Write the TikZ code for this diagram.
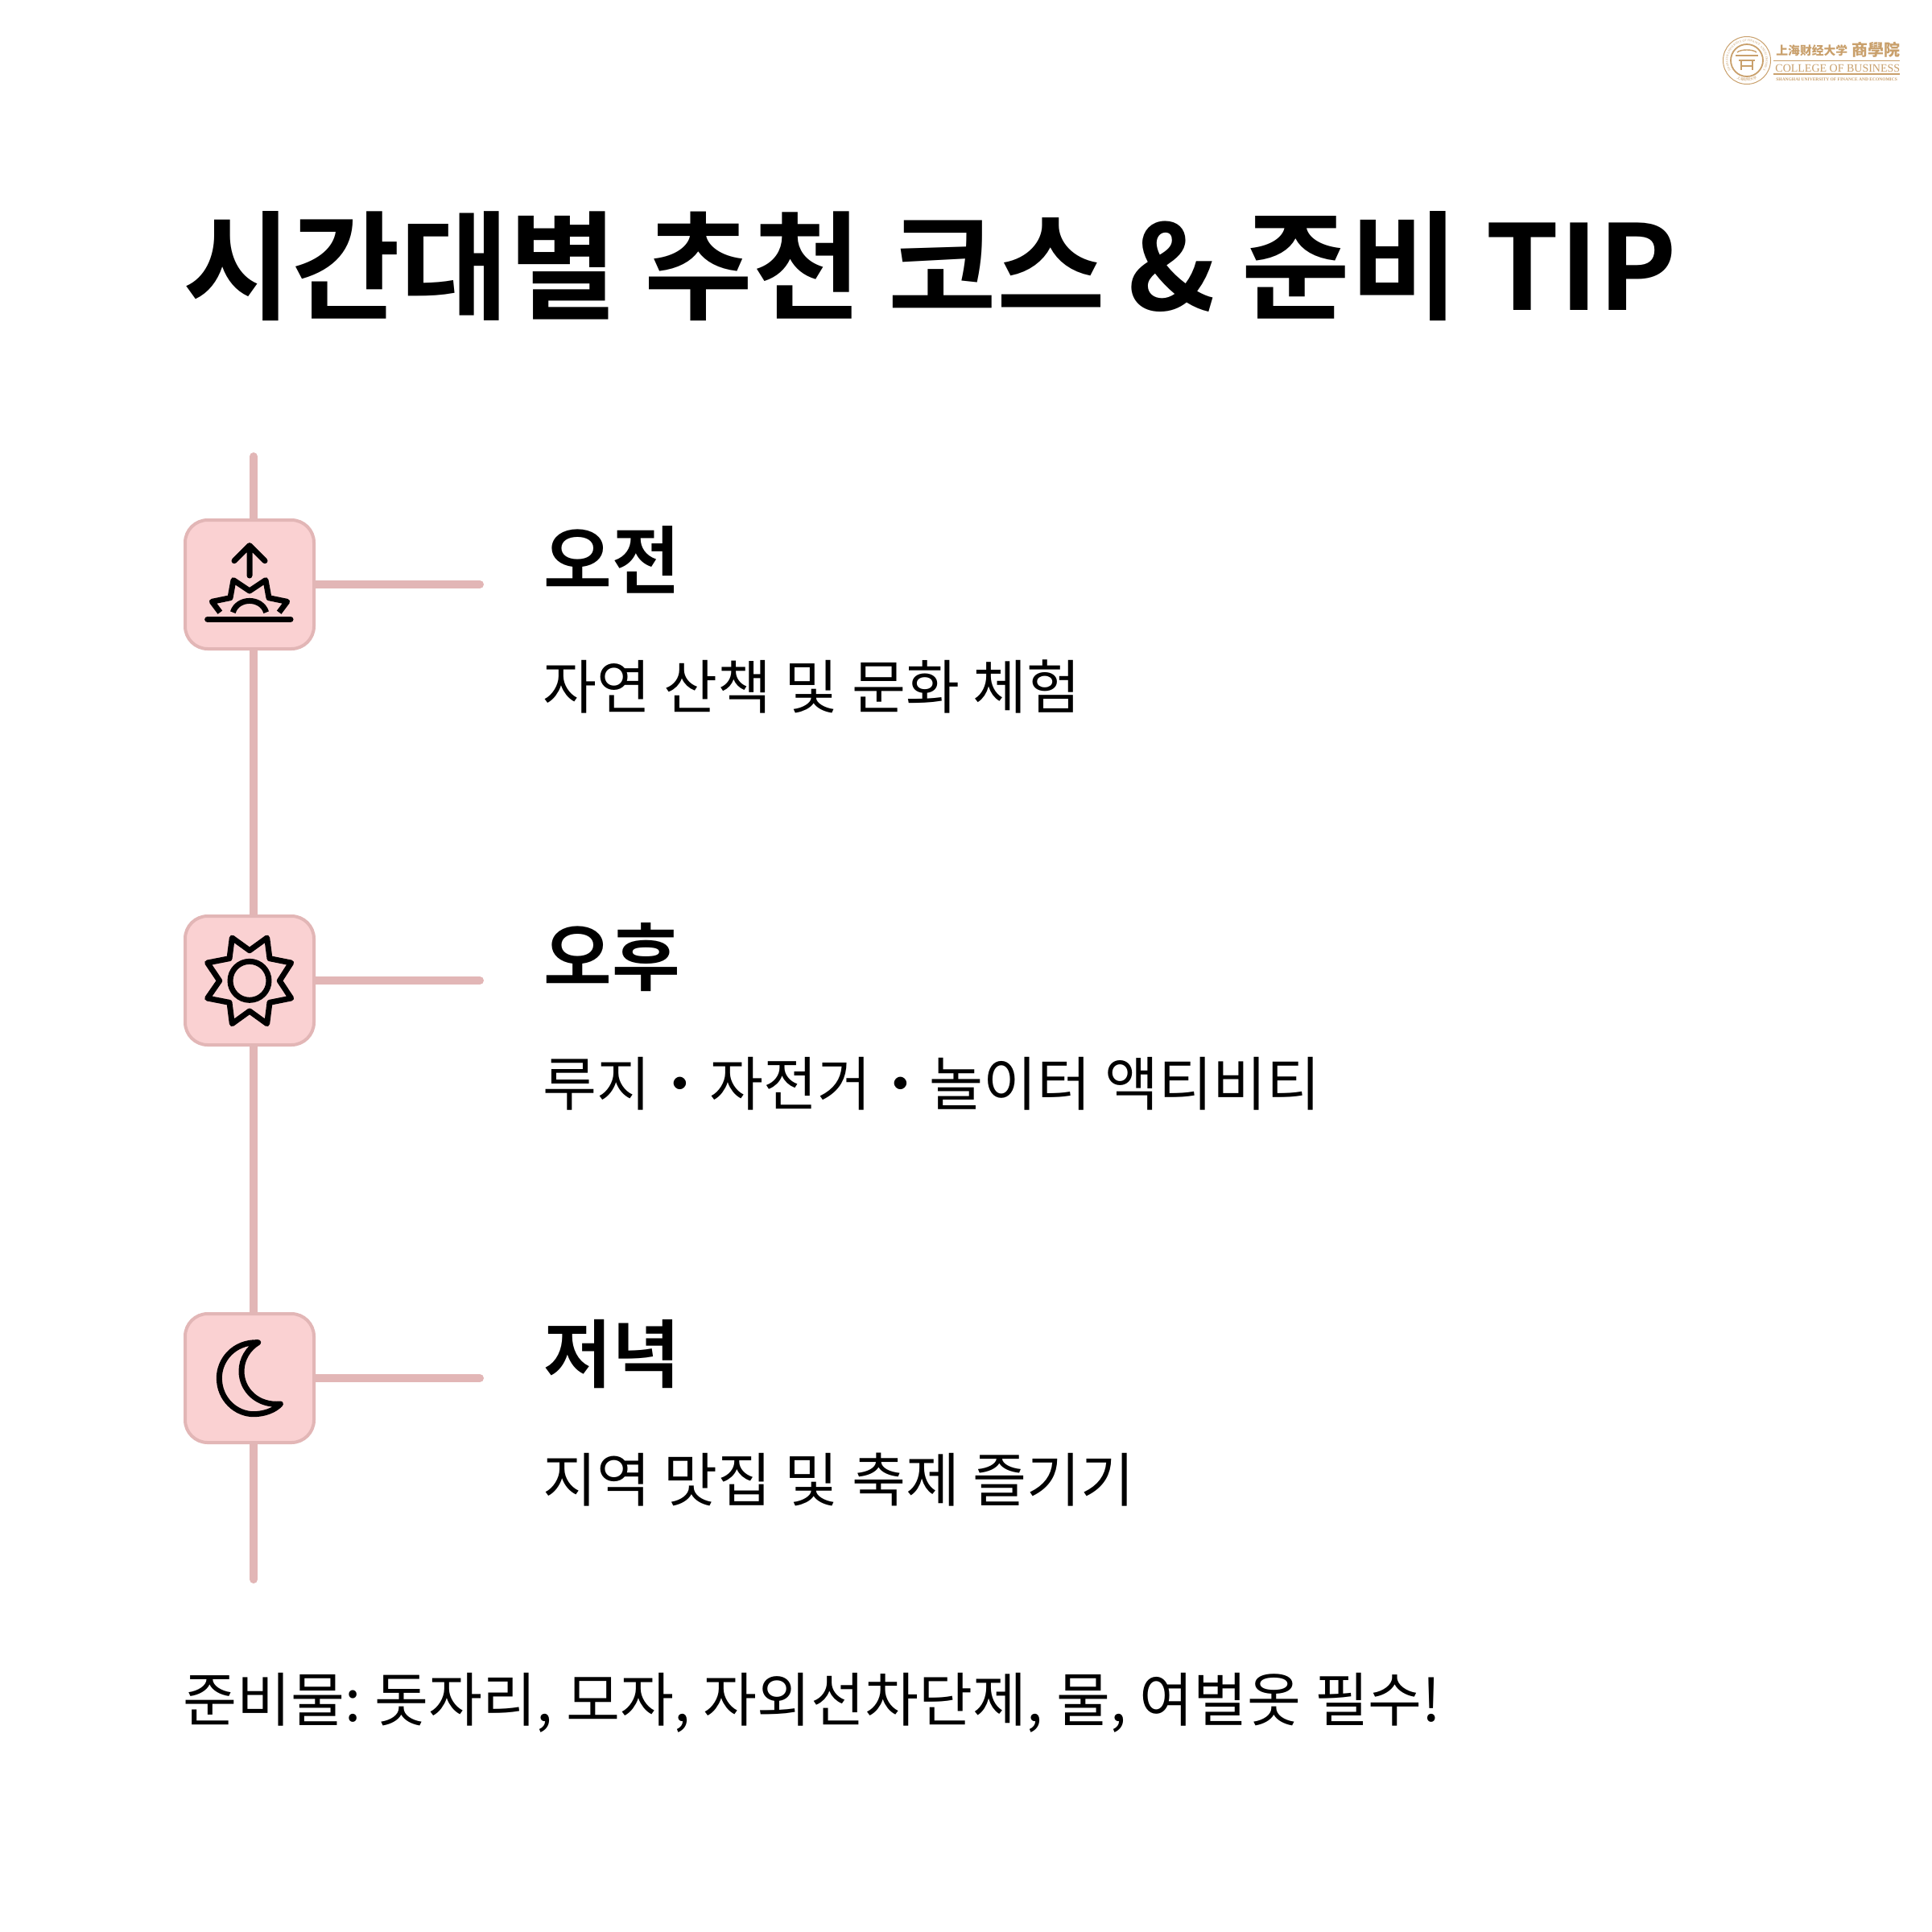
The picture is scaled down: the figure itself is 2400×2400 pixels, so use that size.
\documentclass[tikz,border=0pt]{standalone}
\usepackage{fontspec}
\usetikzlibrary{decorations.text}
\setmainfont{Noto Sans CJK KR}
\newfontfamily\krb{Noto Sans CJK KR Bold}
\newfontfamily\krr{Noto Sans CJK KR}
\newfontfamily\cnf{Noto Sans CJK SC}
\newfontfamily\lib{Liberation Serif}
\definecolor{linec}{HTML}{E2B6B6}
\definecolor{boxc}{HTML}{FAD1D2}
\definecolor{gold}{HTML}{C9A06C}
\pgfdeclarelayer{bg}
\pgfsetlayers{bg,main}
\tikzset{
 x=0.5pt,y=-0.5pt,
 conn/.style={draw=linec,line width=5pt,line cap=round},
 iconbox/.style={draw=linec,fill=boxc,line width=2pt,rounded corners=14pt,minimum width=80pt,minimum height=80pt,inner sep=0pt,outer sep=0pt},
 ico/.style={draw=black,line width=3.5pt,line cap=round,line join=round},
 titlet/.style={anchor=base west,inner sep=0pt,font=\krb\fontsize{73.3}{73.3}\selectfont},
 headt/.style={anchor=base west,inner sep=0pt,font=\krb\fontsize{46}{46}\selectfont},
 subt/.style={anchor=base west,inner sep=0pt,font=\krr\fontsize{36.4}{36.4}\selectfont},
 gold1/.style={anchor=base west,inner sep=0pt,text=gold},
}
\begin{document}
\begin{tikzpicture}
\useasboundingbox (0,0) rectangle (2400,2400);
\coordinate (top) at (315,567);
\coordinate (bot) at (315,1962);
\coordinate (endx) at (596,0);
\path node[iconbox] (box1) at (310,726) {}
      node[iconbox] (box2) at (310,1218) {}
      node[iconbox] (box3) at (310,1712) {};
\begin{pgfonlayer}{bg}
\fill[white] (0,0) rectangle (2400,2400);
\draw[conn] (top) -- (bot);
\draw[conn] (box1.center) -- (box1.center -| endx);
\draw[conn] (box2.center) -- (box2.center -| endx);
\draw[conn] (box3.center) -- (box3.center -| endx);
\end{pgfonlayer}
% sunrise icon
\begin{scope}[shift={(210,550)},x=0.16667pt,y=-0.16667pt]
\draw[ico] (300,495) -- (300,385) (243,440) -- (300,383) -- (357,440);
\draw[ico,line cap=butt] (190,632) -- (160,592) -- (228,578) -- (240,512) -- (300,552) -- (360,512) -- (372,578) -- (440,592) -- (410,632);
\draw[ico,line cap=butt] (238,632) .. controls (255,575) and (345,575) .. (362,632);
\draw[ico] (143,658) -- (453,658);
\end{scope}
% sun icon
\begin{scope}[shift={(210,1120)},x=0.16667pt,y=-0.16667pt]
\draw[ico] (235,135) -- (300,182) -- (365,135) -- (375,212) -- (455,228) -- (412,295) -- (455,360) -- (375,376) -- (365,455) -- (300,408) -- (235,455) -- (225,376) -- (143,360) -- (188,295) -- (143,228) -- (225,212) -- cycle;
\draw[ico] (300,295) circle[radius=72];
\end{scope}
% moon icon
\begin{scope}[shift={(210,1610)},x=0.16667pt,y=-0.16667pt]
\draw[ico] (332,173) .. controls (240,170) and (187,240) .. (187,305) .. controls (187,385) and (250,440) .. (315,440) .. controls (355,440) and (395,425) .. (415,402) .. controls (330,410) and (270,350) .. (270,280) .. controls (270,235) and (295,195) .. (332,173) -- cycle;
\end{scope}
% texts
\node[titlet] (title) at (227,385) {시간대별 추천 코스\hspace{-2.3pt} \&\hspace{-0.3pt} 준비 TIP};
\node[headt] (h1) at (675,730) {오전};
\node[subt] (s1) at (674,880) {자연 산책 및 문화 체험};
\node[headt] (h2) at (675,1223) {오후};
\node[subt] (s2) at (674,1373) {루지・자전거・놀이터 액티비티};
\node[headt] (h3) at (675,1716) {저녁};
\node[subt] (s3) at (674,1865) {지역 맛집 및 축제 즐기기};
\node[subt] (foot) at (227,2138) {준비물:\hspace{-2.2pt} 돗자리, 모자, 자외선차단제, 물, 여벌옷 필수!};
% logo
\draw[gold,line width=0.5pt] (2170,75) circle[radius=29.5];
\draw[gold,line width=0.9pt] (2170,75) circle[radius=20];
\draw[gold,line width=0.7pt] (2158,65) .. controls (2162,61) and (2178,61) .. (2182,65);
\draw[gold,line width=0.7pt] (2156,69) -- (2184,69) (2160,75) -- (2180,75) (2163,75) -- (2163,87) (2177,75) -- (2177,87) (2163,82) -- (2177,82);
\begin{scope}[shift={(2170,75)},y=0.5pt]
\path[decorate,decoration={text along path,text color=gold,text align=center,text={|\lib\fontsize{1.9}{1.9}\selectfont|SHANGHAI UNIVERSITY OF FINANCE AND ECONOMICS}}] (215:23.5) arc[start angle=215,end angle=-35,radius=23.5];
\path[decorate,decoration={text along path,text color=gold,text align=center,text={|\cnf\fontsize{2.2}{2.2}\selectfont|上海财经大学}}] (235:25.5) arc[start angle=235,end angle=305,radius=25.5];
\end{scope}
\node[gold1,font=\cnf\bfseries\fontsize{7.4}{7.4}\selectfont] (lg1) at (2206,68) {上海财经大学};
\node[gold1,font=\cnf\bfseries\fontsize{10}{10}\selectfont] (lg2) at (2300,69) {商學院};
\draw[gold,line width=0.4pt] (2203,75) -- (2360,75);
\node[gold1,font=\lib\fontsize{7}{7}\selectfont] (lg3) at (2205,89) {COLLEGE OF BUSINESS};
\draw[gold,line width=0.6pt] (2203,92) -- (2360,92);
\node[gold1,font=\lib\bfseries\fontsize{2.75}{2.75}\selectfont] (lg4) at (2206,100) {SHANGHAI UNIVERSITY OF FINANCE AND ECONOMICS};
\end{tikzpicture}
\end{document}
